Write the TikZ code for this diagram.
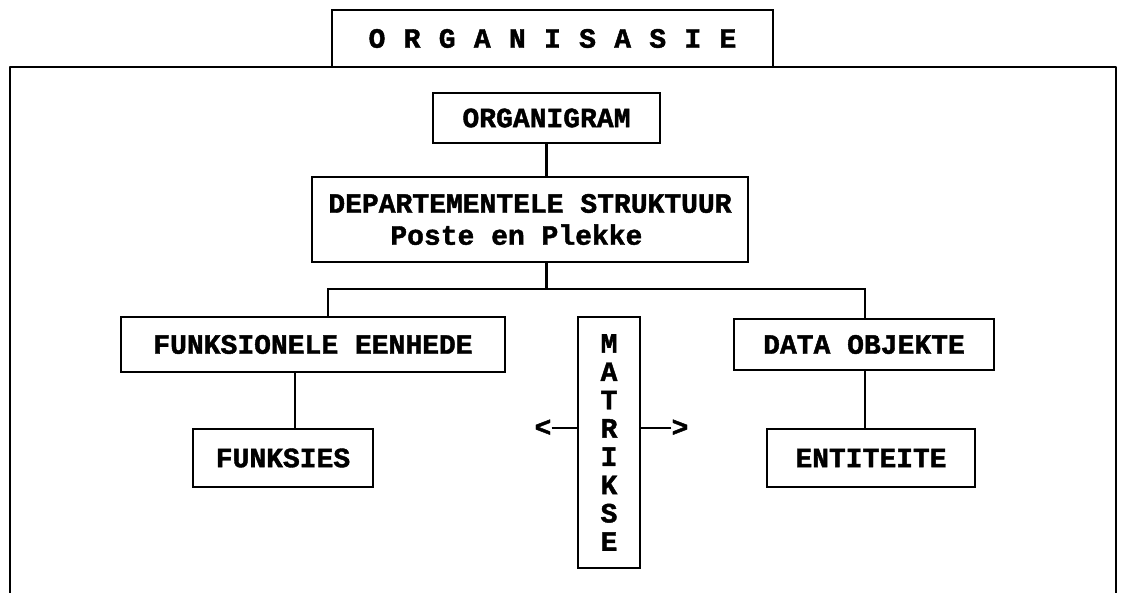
\documentclass[tikz,border=0pt]{standalone}
\usepackage{fontspec}
\setmainfont{Liberation Mono}[BoldFeatures={FakeBold=1.5}]
\newcommand{\tl}[1]{\makebox[35.1pt][c]{#1}}
\begin{document}
\begin{tikzpicture}[x=1pt,y=-1pt,
  every node/.style={font=\fontsize{28}{32}\selectfont\bfseries},
  box/.style={draw, line width=2.6pt, inner sep=0pt, align=center},
  conn/.style={line width=2.6pt}]
\useasboundingbox (0,0) rectangle (1124,593);
\fill[white] (0,0) rectangle (1124,593);
% outer frame (open at the bottom)
\draw[conn, line join=round] (10,593) -- (10,67) -- (1116,67) -- (1116,593);
\node[box, fill=white, minimum width=441pt, minimum height=57pt] (title) at (552.5,38.5) {\tl{O}\tl{R}\tl{G}\tl{A}\tl{N}\tl{I}\tl{S}\tl{A}\tl{S}\tl{I}\tl{E}};
\node[box, minimum width=227pt, minimum height=50pt] (org) at (546.5,118) {ORGANIGRAM};
\node[box, minimum width=436pt, minimum height=85pt, align=left] (dep) at (530,219.5) {DEPARTEMENTELE STRUKTUUR\\\hspace*{62pt}Poste en Plekke};
\coordinate (bl) at (328,289);
\coordinate (br) at (865,289);
\coordinate (fx) at (295,0);
\node[box, minimum width=384pt, minimum height=55pt] (fe) at (313,344.5) {FUNKSIONELE EENHEDE};
\node[box, minimum width=260pt, minimum height=51pt] (do) at (864,344.5) {DATA OBJEKTE};
\node[box, minimum width=62pt, minimum height=251pt, font=\fontsize{28}{28.3}\selectfont\bfseries] (mat) at (609,442.5) {M\\A\\T\\R\\I\\K\\S\\E};
\node[box, minimum width=180pt, minimum height=58pt] (fk) at (283,458) {FUNKSIES};
\node[box, minimum width=208pt, minimum height=58pt] (en) at (871,458) {ENTITEITE};
\node[inner sep=0pt] (la) at (543,428) {<};
\node[inner sep=0pt] (ra) at (680,428) {>};
% connectors
\draw[conn] (org.south) -- (org.south |- dep.north);
\draw[conn] (dep.south -| org.south) -- (org.south |- bl);
\draw[conn] (fe.north -| bl) -- (bl) -- (br) -- (do.north -| br);
\draw[conn] (fe.south -| fx) -- (fk.north -| fx);
\draw[conn] (do.south -| br) -- (en.north -| br);
\draw[conn] (la.east) -- (la.east -| mat.west);
\draw[conn] (ra.west) -- (ra.west -| mat.east);
\end{tikzpicture}
\end{document}
